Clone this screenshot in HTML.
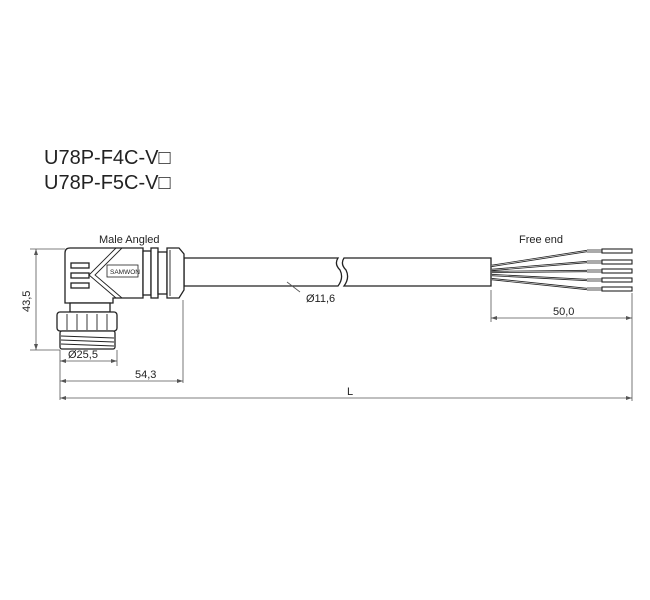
<!DOCTYPE html>
<html><head><meta charset="utf-8"><style>
html,body{margin:0;padding:0;background:#fff}
svg{display:block}
text{font-family:"Liberation Sans",sans-serif;fill:#222}
</style></head><body>
<svg width="650" height="600" viewBox="0 0 650 600" xmlns="http://www.w3.org/2000/svg">
<text x="44" y="164" font-size="20">U78P-F4C-V□</text>
<text x="44" y="189" font-size="20">U78P-F5C-V□</text>
<text x="99" y="243" font-size="11">Male Angled</text>
<text x="519" y="243" font-size="11">Free end</text>

<g fill="#fff" stroke="#222" stroke-width="1.3">
<!-- cable -->
<path d="M184 258 H338 Q334 264 340 270 Q344 278 338 286 H184 Z"/>
<path d="M344 258 Q340 264 346 270 Q350 278 344 286 H491 V258 Z"/>
<!-- body -->
<path d="M70 248 H143 V298 H113 V303 H65 V253 Q65 248 70 248 Z"/>
<rect x="70" y="303" width="40" height="9"/>
<!-- nut -->
<rect x="57" y="312" width="60" height="19" rx="3"/>
<rect x="60" y="331" width="55" height="18" rx="2"/>
<!-- collar -->
<rect x="143" y="251" width="8" height="44"/>
<rect x="151" y="248" width="7" height="50"/>
<rect x="158" y="252" width="9" height="42"/>
<path d="M167 248 H179 L184 254 V290 L179 298 H167 Z"/>
<rect x="71" y="263" width="18" height="5"/>
<rect x="71" y="273" width="18" height="5"/>
<rect x="71" y="283" width="18" height="5"/>
<rect x="107" y="265" width="31" height="12" stroke-width="0.8"/>
</g>
<g stroke="#222" stroke-width="0.9" fill="none">
<path d="M116 248 L89 275 L116 298"/>
<path d="M122 248 L95 275 L122 298"/>
<line x1="67" y1="314" x2="67" y2="330"/><line x1="77" y1="314" x2="77" y2="330"/>
<line x1="87" y1="314" x2="87" y2="330"/><line x1="97" y1="314" x2="97" y2="330"/>
<line x1="107" y1="314" x2="107" y2="330"/>
<line x1="61" y1="336" x2="114" y2="338"/><line x1="61" y1="340" x2="114" y2="342"/>
<line x1="61" y1="344" x2="114" y2="346"/>
<line x1="170" y1="250" x2="170" y2="296"/>
</g>
<text x="110" y="274" font-size="6.5">SAMWON</text>

<!-- wires -->
<g stroke="#222" stroke-width="1.1" fill="#fff">
<path d="M491 266 L587 251 M491 270 L587 262 M491 272 L587 271 M491 275 L587 280 M491 279 L587 289" fill="none" stroke-width="2.2"/>
<path d="M491 266 L587 251 M491 270 L587 262 M491 272 L587 271 M491 275 L587 280 M491 279 L587 289" fill="none" stroke="#fff" stroke-width="0.6"/>
<rect x="587" y="249" width="15" height="4" fill="#aaa" stroke="none"/>
<rect x="587" y="260" width="15" height="4" fill="#aaa" stroke="none"/>
<rect x="587" y="269" width="15" height="4" fill="#aaa" stroke="none"/>
<rect x="587" y="278" width="15" height="4" fill="#aaa" stroke="none"/>
<rect x="587" y="287" width="15" height="4" fill="#aaa" stroke="none"/>
<rect x="602" y="249" width="30" height="4"/>
<rect x="602" y="260" width="30" height="4"/>
<rect x="602" y="269" width="30" height="4"/>
<rect x="602" y="278" width="30" height="4"/>
<rect x="602" y="287" width="30" height="4"/>
</g>

<!-- dimensions -->
<g stroke="#555" stroke-width="0.8" fill="none">
<line x1="30" y1="249" x2="65" y2="249"/><line x1="30" y1="350" x2="60" y2="350"/>
<line x1="36" y1="249" x2="36" y2="350"/>
<line x1="60" y1="350" x2="60" y2="400"/>
<line x1="117" y1="350" x2="117" y2="366"/>
<line x1="60" y1="361" x2="117" y2="361"/>
<line x1="183" y1="300" x2="183" y2="383"/>
<line x1="60" y1="381" x2="183" y2="381"/>
<line x1="60" y1="398" x2="632" y2="398"/>
<line x1="632" y1="293" x2="632" y2="401"/>
<line x1="491" y1="290" x2="491" y2="322"/>
<line x1="491" y1="318" x2="632" y2="318"/>
<line x1="287" y1="282" x2="300" y2="292"/>
</g>
<g fill="#555">
<path d="M36 249 l-2 6 h4z M36 350 l-2 -6 h4z"/>
<path d="M60 361 l6 -2 v4z M117 361 l-6 -2 v4z"/>
<path d="M60 381 l6 -2 v4z M183 381 l-6 -2 v4z"/>
<path d="M60 398 l6 -2 v4z M632 398 l-6 -2 v4z"/>
<path d="M491 318 l6 -2 v4z M632 318 l-6 -2 v4z"/>
</g>
<text x="68" y="358" font-size="11">Ø25,5</text>
<text x="135" y="378" font-size="11">54,3</text>
<text x="347" y="395" font-size="11">L</text>
<text x="553" y="315" font-size="11">50,0</text>
<text x="306" y="302" font-size="11">Ø11,6</text>
<text x="0" y="0" font-size="11" transform="translate(30 312) rotate(-90)">43,5</text>
</svg>
</body></html>
